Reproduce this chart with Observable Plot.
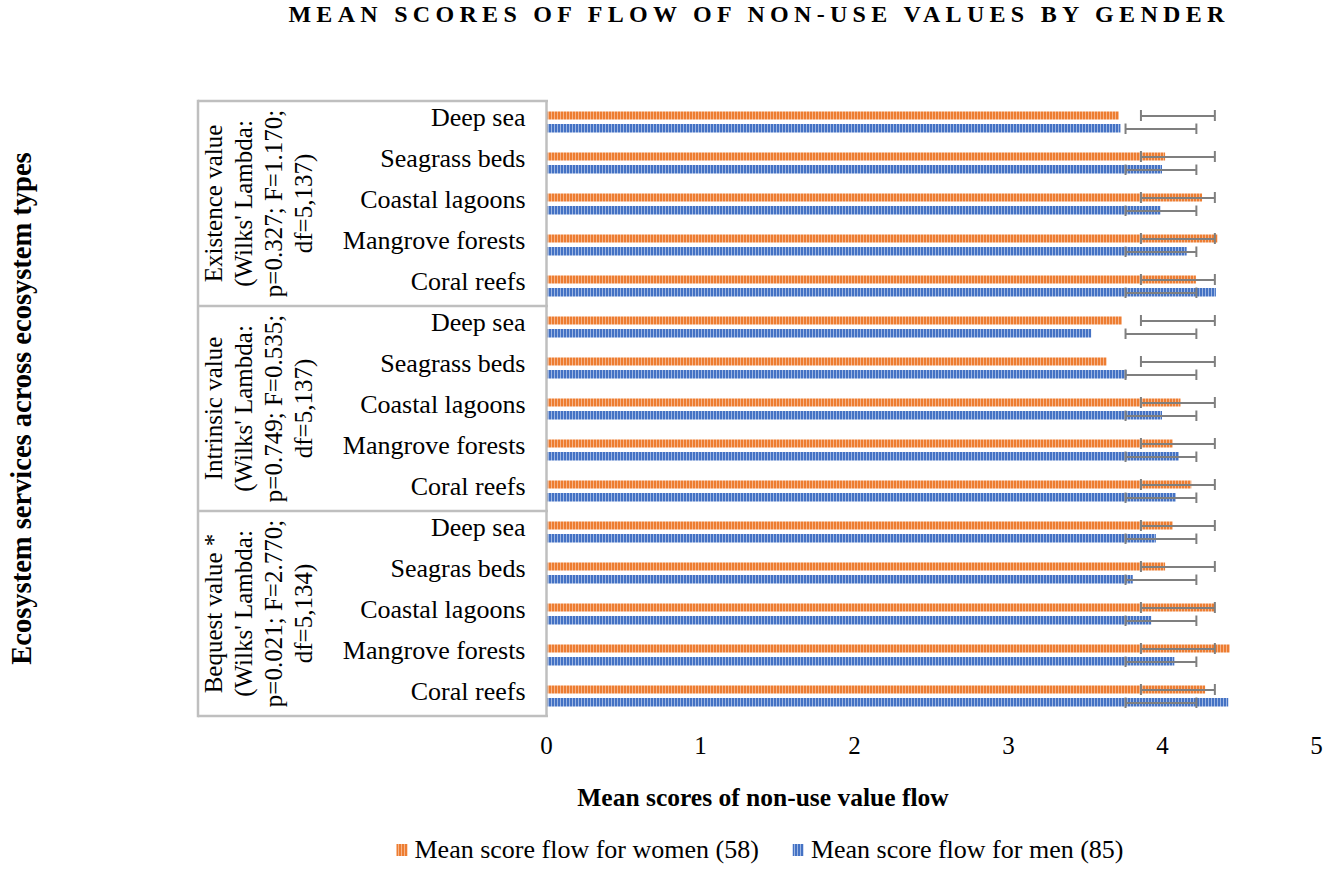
<!DOCTYPE html>
<html>
<head>
<meta charset="utf-8">
<script src="https://cdn.jsdelivr.net/npm/d3@7"></script>
<script src="https://cdn.jsdelivr.net/npm/@observablehq/plot@0.6"></script>
<style>
  body { margin: 0; background: #fff; font-family: "Liberation Serif", "Times New Roman", serif; color: #000; }
  #wrap { position: relative; width: 1325px; height: 894px; overflow: hidden; }
  #title { position: absolute; top: 1px; left: 759px; transform: translateX(-50%); white-space: nowrap;
           font-weight: bold; font-size: 24px; letter-spacing: 5.3px; }
  #chart { position: absolute; top: 36px; left: 0; }
  #legend { position: absolute; top: 835px; left: 760px; transform: translateX(-50%); display: flex;
            align-items: center; white-space: nowrap; font-size: 26px; }
  .item { display: flex; align-items: center; }
  .item + .item { margin-left: 34px; }
  .sw { width: 11px; height: 12px; margin-right: 7px; }
  .sw.w { background: repeating-linear-gradient(90deg, #ED7D31 0 2px, #F6B48A 2px 3px); }
  .sw.m { background: repeating-linear-gradient(90deg, #4472C4 0 2px, #9DB6E3 2px 3px); }
</style>
</head>
<body>
<div id="wrap">
  <div id="title">MEAN SCORES OF FLOW OF NON-USE VALUES BY GENDER</div>
  <div id="chart"></div>
  <div id="legend"></div>
</div>
<script>
// ---------------- data ----------------
const groups = ["Existence value", "Intrinsic value", "Bequest value *"];
const groupStats = [
  ["(Wilks' Lambda:", "p=0.327; F=1.170;", "df=5,137)"],
  ["(Wilks' Lambda:", "p=0.749; F=0.535;", "df=5,137)"],
  ["(Wilks' Lambda:", "p=0.021; F=2.770;", "df=5,134)"]
];
const categories = [
  ["Deep sea", "Seagrass beds", "Coastal lagoons", "Mangrove forests", "Coral reefs"],
  ["Deep sea", "Seagrass beds", "Coastal lagoons", "Mangrove forests", "Coral reefs"],
  ["Deep sea", "Seagras beds", "Coastal lagoons", "Mangrove forests", "Coral reefs"]
];
const women = [3.72, 4.02, 4.26, 4.36, 4.22,  3.74, 3.64, 4.12, 4.07, 4.19,  4.07, 4.02, 4.34, 4.44, 4.28];
const men   = [3.73, 4.00, 3.99, 4.16, 4.35,  3.54, 3.77, 4.00, 4.11, 4.09,  3.96, 3.81, 3.93, 4.08, 4.43];
const womenErr = [3.86, 4.34];   // error bar range (mean ± SD), same for all rows
const menErr   = [3.76, 4.22];
const xTicks = [0, 1, 2, 3, 4, 5];
const seriesNames = ["Mean score flow for women (58)", "Mean score flow for men (85)"];
const xTitle = "Mean scores of non-use value flow";
const yTitle = "Ecosystem services across ecosystem types";

// ---------------- table ----------------
const rows = [];
groups.forEach((g, gi) => categories[gi].forEach((c, ci) => {
  const i = rows.length;
  rows.push({key: g + "|" + c, group: g, gi, cat: c, women: women[i], men: men[i],
             wLo: womenErr[0], wHi: womenErr[1], mLo: menErr[0], mHi: menErr[1]});
}));
const keys = rows.map(d => d.key);
const labelOf = new Map(rows.map(d => [d.key, d.cat]));

// ---------------- style ----------------
const FONT = '"Liberation Serif", "Times New Roman", serif';
const GRID = "#bfbfbf";
const ERR = "#7f7f7f";
const BOX_LEFT = 198;
const LINE_X0 = 213, LINE_STEP = 30;

// custom mark: group box, group labels, axis titles
function decorations(index, scales, values, dims) {
  const y = scales.y;
  const bw = y(keys[1]) - y(keys[0]);
  const g = d3.create("svg:g").attr("font-family", FONT).attr("fill", "#000");
  const bounds = [];
  groups.forEach((grp, gi) => {
    const ks = rows.filter(r => r.gi === gi).map(r => r.key);
    const top = y(ks[0]), bottom = y(ks[ks.length - 1]) + bw;
    bounds.push(top, bottom);
    const cy = (top + bottom) / 2;
    const lines = [grp, ...groupStats[gi]];
    lines.forEach((t, li) => {
      g.append("text")
        .attr("transform", `translate(${LINE_X0 + li * LINE_STEP},${cy}) rotate(-90)`)
        .attr("text-anchor", "middle").attr("dy", "0.35em")
        .attr("font-size", 25).text(t);
    });
  });
  const ys = Array.from(new Set(bounds.map(v => Math.round(v * 10) / 10)));
  ys.forEach(v => g.append("line").attr("x1", BOX_LEFT).attr("x2", dims.marginLeft + 2)
    .attr("y1", v).attr("y2", v).attr("stroke", GRID).attr("stroke-width", 2.5));
  g.append("line").attr("x1", BOX_LEFT).attr("x2", BOX_LEFT)
    .attr("y1", d3.min(ys) - 1.25).attr("y2", d3.max(ys) + 1.25).attr("stroke", GRID).attr("stroke-width", 2.5);
  const plotTop = dims.marginTop, plotBottom = dims.height - dims.marginBottom;
  g.append("text")
    .attr("transform", `translate(21,${(plotTop + plotBottom) / 2}) rotate(-90)`)
    .attr("text-anchor", "middle").attr("dy", "0.35em")
    .attr("font-size", 28.5).attr("font-weight", "bold").text(yTitle);
  g.append("text")
    .attr("x", 763).attr("y", plotBottom + 81).attr("dy", "0.35em")
    .attr("text-anchor", "middle").attr("font-size", 25.5).attr("font-weight", "bold").text(xTitle);
  return g.node();
}

const chart = Plot.plot({
  width: 1325,
  height: 790,
  marginTop: 65,
  marginBottom: 110,
  marginLeft: 546,
  marginRight: 9,
  style: {fontFamily: FONT, fontSize: "25px", color: "#000", background: "#fff"},
  x: {domain: [0, 5], axis: null},
  y: {domain: keys, padding: 0, axis: null},
  marks: [
    Plot.barX(rows, {y: "key", x: "women", fill: "url(#patW)", insetTop: 10.5, insetBottom: 22.5}),
    Plot.barX(rows, {y: "key", x: "men", fill: "url(#patM)", insetTop: 23, insetBottom: 9.5}),
    Plot.ruleY(rows, {y: "key", x1: "wLo", x2: "wHi", dy: -6, stroke: ERR, strokeWidth: 2}),
    Plot.tickX(rows, {y: "key", x: "wLo", stroke: ERR, strokeWidth: 2, insetTop: 9, insetBottom: 21}),
    Plot.tickX(rows, {y: "key", x: "wHi", stroke: ERR, strokeWidth: 2, insetTop: 9, insetBottom: 21}),
    Plot.ruleY(rows, {y: "key", x1: "mLo", x2: "mHi", dy: 7, stroke: ERR, strokeWidth: 2}),
    Plot.tickX(rows, {y: "key", x: "mLo", stroke: ERR, strokeWidth: 2, insetTop: 22.5, insetBottom: 8}),
    Plot.tickX(rows, {y: "key", x: "mHi", stroke: ERR, strokeWidth: 2, insetTop: 22.5, insetBottom: 8}),
    Plot.ruleX([0], {stroke: GRID, strokeWidth: 2.5}),
    Plot.axisX(xTicks, {tickSize: 0, tickPadding: 20, fontSize: 25, label: null, tickFormat: d => String(d)}),
    Plot.axisY(keys, {tickSize: 0, tickPadding: 21, fontSize: 26, label: null, dy: -4, tickFormat: k => labelOf.get(k)}),
    decorations
  ]
});

// patterns for bars
const ns = "http://www.w3.org/2000/svg";
const defs = document.createElementNS(ns, "defs");
[["patW", "#ED7D31", "#F6B48A"], ["patM", "#4472C4", "#9DB6E3"]].forEach(([id, c1, c2]) => {
  const p = document.createElementNS(ns, "pattern");
  p.setAttribute("id", id); p.setAttribute("patternUnits", "userSpaceOnUse");
  p.setAttribute("width", 3); p.setAttribute("height", 20);
  const r1 = document.createElementNS(ns, "rect");
  r1.setAttribute("width", 3); r1.setAttribute("height", 20); r1.setAttribute("fill", c1);
  const r2 = document.createElementNS(ns, "rect");
  r2.setAttribute("x", 2); r2.setAttribute("width", 1); r2.setAttribute("height", 20); r2.setAttribute("fill", c2);
  p.appendChild(r1); p.appendChild(r2); defs.appendChild(p);
});
chart.insertBefore(defs, chart.firstChild);
document.getElementById("chart").appendChild(chart);

// legend
const leg = document.getElementById("legend");
seriesNames.forEach((name, i) => {
  const it = document.createElement("div"); it.className = "item";
  const sw = document.createElement("div"); sw.className = "sw " + (i === 0 ? "w" : "m");
  const tx = document.createElement("span"); tx.textContent = name;
  it.appendChild(sw); it.appendChild(tx); leg.appendChild(it);
});
</script>
</body>
</html>
